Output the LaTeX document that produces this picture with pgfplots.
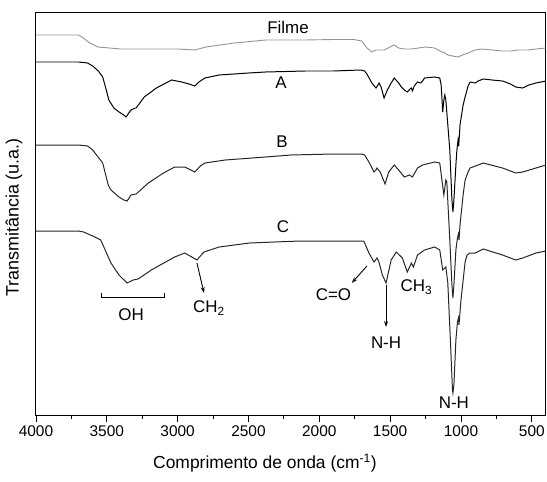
\documentclass[border=0pt]{standalone}
\usepackage{pgfplots}
\pgfplotsset{compat=1.18}
\usetikzlibrary{arrows.meta}
\usepackage{fontspec}
\setmainfont{Liberation Sans}
\begin{document}
\begin{tikzpicture}
\begin{axis}[name=ax,
  scale only axis, width=510bp, height=403bp,
  x dir=reverse, xmin=400, xmax=4000,
  y dir=reverse, ymin=12, ymax=415,
  xtick={500,1000,...,4000}, minor x tick num=1,
  ytick=\empty,
  xtick pos=bottom, tick align=outside,
  major tick length=7bp, minor tick length=4bp,
  every tick/.style={black, line width=0.9pt},
  axis line style={line width=1pt},
  /pgf/number format/assume math mode=true,
  /pgf/number format/1000 sep={},
  xticklabel style={font=\fontsize{15.5}{18}\selectfont},
  every axis x label/.style={at={(axis description cs:0.449,0)}, yshift=-48bp, anchor=center},
  every axis y label/.style={at={(axis description cs:-0.043,0.49)}, rotate=90, anchor=center},
  xlabel={\fontsize{17.5}{20}\selectfont Comprimento de onda (cm\textsuperscript{-1})},
  ylabel={\fontsize{18}{21}\selectfont Transmitância (u.a.)},
]
% Filme
\addplot[gray!85, line width=0.9pt] coordinates {
(4000,35) (3700,35) (3686,36) (3620,43) (3564,47) (3400,49) (3200,49) (3000,49)
(2880,50) (2800,47) (2600,43) (2379,40) (2100,40) (1900,39.5) (1757,39.5) (1700,41)
(1664,48) (1629,52) (1600,50) (1543,50) (1500,47) (1471,45) (1440,48) (1400,49)
(1350,49) (1300,48) (1250,47) (1186,48) (1150,51) (1114,53) (1093,55) (1060,56)
(1021,57) (990,55) (950,53) (900,50) (850,49) (780,50) (707,51) (650,51) (600,50)
(530,50) (471,49) (400,48)};
% A
\addplot[black, line width=1pt] coordinates {
(4000,62) (3700,62) (3636,63) (3600,66) (3560,71) (3529,77) (3500,92) (3486,100)
(3450,108) (3414,112) (3380,115) (3364,117) (3340,112) (3329,110) (3300,108) (3293,108)
(3236,97) (3150,88) (3043,80) (2971,82) (2920,84) (2879,86) (2850,82) (2807,78)
(2707,75) (2500,73) (2379,72) (2100,71) (1900,71) (1707,70) (1680,71) (1664,74)
(1629,83) (1600,88) (1586,85) (1579,83) (1564,87) (1543,98) (1520,90) (1493,83)
(1471,78) (1440,83) (1421,87) (1400,90) (1379,92) (1360,89) (1350,88) (1343,91)
(1330,86) (1307,82) (1285,83) (1271,81) (1257,78) (1186,77) (1150,78) (1140,85)
(1129,112) (1121,100) (1114,95) (1107,100) (1079,150) (1064,200) (1057,212) (1050,200)
(1036,165) (1029,150) (1021,140) (1016,146) (1007,125) (985,105) (971,97) (950,86)
(936,82) (900,83) (879,81) (843,79) (780,80) (707,81) (650,84) (614,87) (564,88)
(521,85) (471,83) (400,81)};
% B
\addplot[black!85, line width=1pt] coordinates {
(4000,145) (3700,145) (3636,146) (3600,150) (3529,163) (3490,185) (3471,190) (3414,197)
(3380,200) (3357,201) (3329,195) (3293,194) (3207,183) (3100,173) (3021,167) (2950,167)
(2879,172) (2840,166) (2807,163) (2664,160) (2379,157) (2200,155) (1900,154) (1700,154)
(1680,155) (1650,162) (1614,172) (1600,170) (1593,168) (1570,172) (1536,184) (1510,172)
(1471,165) (1440,170) (1400,177) (1364,175) (1343,177) (1307,168) (1271,165) (1186,162)
(1150,163) (1121,195) (1107,180) (1100,182) (1079,240) (1064,285) (1057,298) (1050,285)
(1036,250) (1025,238) (1018,234) (1014,240) (1007,225) (985,195) (971,180) (950,172)
(936,168) (879,165) (843,163) (707,168) (614,173) (564,172) (471,168) (400,165)};
% C
\addplot[black!85, line width=1pt] coordinates {
(4000,231) (3700,231) (3664,232) (3600,236) (3543,240) (3471,263) (3414,275) (3357,283)
(3314,280) (3279,279) (3186,270) (3021,257) (2950,253) (2900,257) (2864,260) (2840,256)
(2814,252) (2707,247) (2493,243) (2136,241) (1686,241) (1650,253) (1614,262) (1593,258)
(1579,262) (1555,275) (1529,283) (1493,260) (1457,252) (1414,258) (1379,272) (1350,263)
(1336,267) (1307,255) (1257,250) (1186,247) (1150,250) (1129,270) (1107,267) (1093,283)
(1075,340) (1060,390) (1057,393) (1050,385) (1036,340) (1025,322) (1018,318) (1014,325)
(1000,300) (971,262) (957,255) (936,253) (900,253) (843,249) (707,255) (614,260)
(564,258) (471,253) (400,251)};
% labels
\begin{scope}[every node/.style={font=\fontsize{17}{20}\selectfont, inner sep=0pt}]
\node at (axis cs:2221,27) {Filme};
\node at (axis cs:2271,83) {A};
\node at (axis cs:2264,142) {B};
\node at (axis cs:2257,227) {C};
\draw[black, line width=0.9pt] (axis cs:3536,293) -- (axis cs:3536,297) -- (axis cs:3093,297) -- (axis cs:3093,293);
\node at (axis cs:3329,315) {OH};
\draw[-{Stealth[length=6pt,width=4pt]}, line width=0.9pt] (axis cs:2864,263) -- (axis cs:2814,293);
\node at (axis cs:2779,308) {CH\textsubscript{2}};
\draw[-{Stealth[length=6pt,width=4pt]}, line width=0.9pt] (axis cs:1664,266) -- (axis cs:1771,283);
\node at (axis cs:1900,295) {C=O};
\draw[-{Stealth[length=6pt,width=4pt]}, line width=0.9pt] (axis cs:1529,285) -- (axis cs:1529,327);
\node at (axis cs:1529,343) {N-H};
\node at (axis cs:1314,287) {CH\textsubscript{3}};
\node at (axis cs:1050,403) {N-H};
\end{scope}
\end{axis}
\pgfresetboundingbox
\path[use as bounding box] ([shift={(-36bp,-67bp)}]ax.south west) rectangle ([shift={(1bp,12bp)}]ax.north east);
\end{tikzpicture}
\end{document}
